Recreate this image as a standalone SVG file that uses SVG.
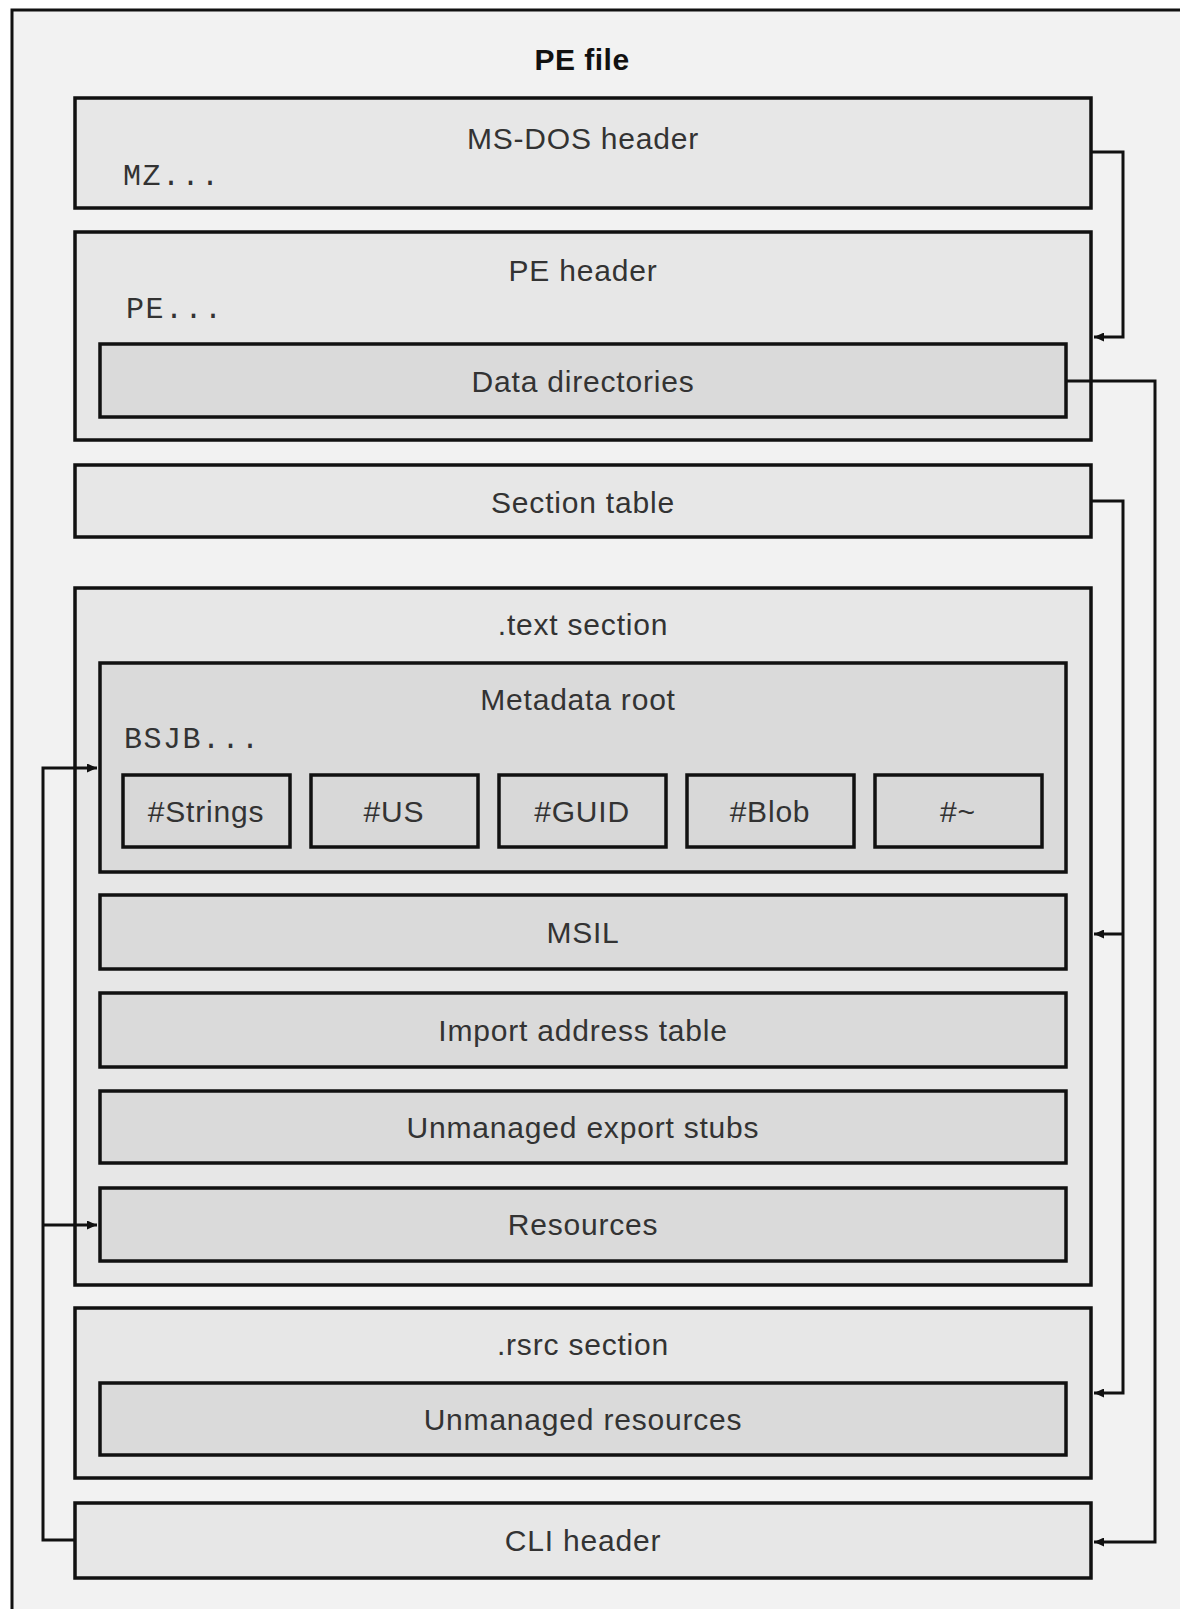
<svg xmlns="http://www.w3.org/2000/svg" width="1180" height="1609" viewBox="0 0 1180 1609">
  <style>
    .frame { fill: #f2f2f2; stroke: #111; stroke-width: 3; }
    .outer { fill: #e7e7e7; stroke: #111; stroke-width: 3.5; }
    .inner { fill: #dadada; stroke: #111; stroke-width: 3.5; }
    .stream { fill: #d8d8d8; stroke: #111; stroke-width: 3.5; }
    .lbl { font-family: "Liberation Sans", Arial, sans-serif; font-size: 30px; fill: #333; text-anchor: middle; letter-spacing: 0.8px; }
    .title { font-family: "Liberation Sans", Arial, sans-serif; font-size: 30px; font-weight: bold; fill: #111; text-anchor: middle; letter-spacing: 0.5px; }
    .sig { font-family: "Liberation Mono", "Courier New", monospace; font-size: 30px; letter-spacing: 1.5px; fill: #333; }
    .conn { fill: none; stroke: #111; stroke-width: 3; }
  </style>
  <defs>
    <marker id="arrow" markerUnits="userSpaceOnUse" markerWidth="11" markerHeight="9" refX="10" refY="4.5" orient="auto">
      <path d="M0,0 L10,4.5 L0,9 z" fill="#111"/>
    </marker>
  </defs>

  <rect width="1180" height="1609" fill="#ffffff"/>

  <!-- outer PE file frame (right and bottom run off the page) -->
  <g id="pe-file">
    <rect class="frame" x="12" y="10" width="1200" height="1700"/>
    <text class="title" x="582" y="70">PE file</text>
  </g>

  <g id="msdos-header">
    <rect class="outer" x="75" y="98" width="1016" height="110"/>
    <text class="lbl" x="583" y="149">MS-DOS header</text>
    <text class="sig" x="123" y="185">MZ...</text>
  </g>

  <g id="pe-header">
    <rect class="outer" x="75" y="232" width="1016" height="208"/>
    <text class="lbl" x="583" y="281">PE header</text>
    <text class="sig" x="126" y="318">PE...</text>
  </g>

  <g id="data-directories">
    <rect class="inner" x="100" y="344" width="966" height="73"/>
    <text class="lbl" x="583" y="392">Data directories</text>
  </g>

  <g id="section-table">
    <rect class="outer" x="75" y="465" width="1016" height="72"/>
    <text class="lbl" x="583" y="513">Section table</text>
  </g>

  <g id="text-section">
    <rect class="outer" x="75" y="588" width="1016" height="697"/>
    <text class="lbl" x="583" y="635">.text section</text>
  </g>

  <g id="metadata-root">
    <rect class="inner" x="100" y="663" width="966" height="209"/>
    <text class="lbl" x="578" y="710">Metadata root</text>
    <text class="sig" x="124" y="748">BSJB...</text>
  </g>

  <g id="stream-strings">
    <rect class="stream" x="123" y="775" width="167" height="72"/>
    <text class="lbl" x="206" y="822">#Strings</text>
  </g>
  <g id="stream-us">
    <rect class="stream" x="311" y="775" width="167" height="72"/>
    <text class="lbl" x="394" y="822">#US</text>
  </g>
  <g id="stream-guid">
    <rect class="stream" x="499" y="775" width="167" height="72"/>
    <text class="lbl" x="582" y="822">#GUID</text>
  </g>
  <g id="stream-blob">
    <rect class="stream" x="687" y="775" width="167" height="72"/>
    <text class="lbl" x="770" y="822">#Blob</text>
  </g>
  <g id="stream-tilde">
    <rect class="stream" x="875" y="775" width="167" height="72"/>
    <text class="lbl" x="958" y="822">#~</text>
  </g>

  <g id="msil">
    <rect class="inner" x="100" y="895" width="966" height="74"/>
    <text class="lbl" x="583" y="943">MSIL</text>
  </g>

  <g id="import-address-table">
    <rect class="inner" x="100" y="993" width="966" height="74"/>
    <text class="lbl" x="583" y="1041">Import address table</text>
  </g>

  <g id="unmanaged-export-stubs">
    <rect class="inner" x="100" y="1091" width="966" height="72"/>
    <text class="lbl" x="583" y="1138">Unmanaged export stubs</text>
  </g>

  <g id="resources">
    <rect class="inner" x="100" y="1188" width="966" height="73"/>
    <text class="lbl" x="583" y="1235">Resources</text>
  </g>

  <g id="rsrc-section">
    <rect class="outer" x="75" y="1308" width="1016" height="170"/>
    <text class="lbl" x="583" y="1355">.rsrc section</text>
  </g>

  <g id="unmanaged-resources">
    <rect class="inner" x="100" y="1383" width="966" height="72"/>
    <text class="lbl" x="583" y="1430">Unmanaged resources</text>
  </g>

  <g id="cli-header">
    <rect class="outer" x="75" y="1503" width="1016" height="75"/>
    <text class="lbl" x="583" y="1551">CLI header</text>
  </g>

  <!-- pointers between structures -->
  <g id="connectors">
    <path class="conn" d="M1091,152 H1123 V337 H1094" marker-end="url(#arrow)"/>
    <path class="conn" d="M1066,381 H1155 V1542 H1094" marker-end="url(#arrow)"/>
    <path class="conn" d="M1091,501 H1123 V1393 H1094" marker-end="url(#arrow)"/>
    <path class="conn" d="M1123,934 H1094" marker-end="url(#arrow)"/>
    <path class="conn" d="M75,1540 H43 V768 H97" marker-end="url(#arrow)"/>
    <path class="conn" d="M43,1225 H97" marker-end="url(#arrow)"/>
  </g>
</svg>
